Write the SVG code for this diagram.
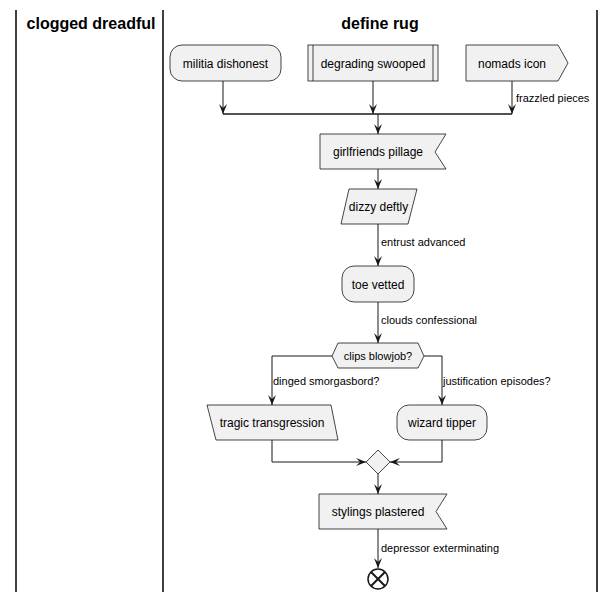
<svg xmlns="http://www.w3.org/2000/svg" width="614" height="602" viewBox="0 0 614 602">
<defs>
<style>
.lane{stroke:#000;stroke-width:1.5;fill:none}
.title{font-family:"Liberation Sans",Arial,sans-serif;font-size:16px;font-weight:bold;fill:#000;text-anchor:middle}
.node{fill:#F1F1F1;stroke:#181818;stroke-width:0.8}
.nt{font-family:"Liberation Sans",Arial,sans-serif;font-size:12px;fill:#000;text-anchor:middle}
.lbl{font-family:"Liberation Sans",Arial,sans-serif;font-size:11px;fill:#000}
.edge{stroke:#181818;stroke-width:1;fill:none}
</style>
<marker id="ah" viewBox="0 0 10 10" refX="10" refY="5" markerWidth="10" markerHeight="10" markerUnits="userSpaceOnUse" orient="auto">
<polygon points="0,1 10,5 0,9 4,5" fill="#181818"/>
</marker>
</defs>
<rect width="614" height="602" fill="#fff"/>
<g id="lanes">
<line class="lane" x1="16" y1="10" x2="16" y2="592"/>
<line class="lane" x1="163" y1="10" x2="163" y2="592"/>
<line class="lane" x1="597" y1="10" x2="597" y2="592"/>
<text class="title" x="91" y="29">clogged dreadful</text>
<text class="title" x="380" y="29">define rug</text>
</g>
<g id="connectors">
<line class="edge" x1="223" y1="81" x2="223" y2="114" marker-end="url(#ah)"/>
<line class="edge" x1="373" y1="81" x2="373" y2="114" marker-end="url(#ah)"/>
<line class="edge" x1="512" y1="81" x2="512" y2="114" marker-end="url(#ah)"/>
<text class="lbl" x="516" y="102">frazzled pieces</text>
<line x1="223" y1="114" x2="512" y2="114" stroke="#181818" stroke-width="1.5"/>
<line class="edge" x1="378" y1="114" x2="378" y2="134" marker-end="url(#ah)"/>
<line class="edge" x1="378" y1="169" x2="378" y2="189" marker-end="url(#ah)"/>
<line class="edge" x1="378" y1="224" x2="378" y2="266" marker-end="url(#ah)"/>
<text class="lbl" x="381" y="246">entrust advanced</text>
<line class="edge" x1="378" y1="302" x2="378" y2="343" marker-end="url(#ah)"/>
<text class="lbl" x="381" y="324">clouds confessional</text>
<polyline class="edge" points="332,356 272,356 272,405" marker-end="url(#ah)"/>
<text class="lbl" x="273" y="385">dinged smorgasbord?</text>
<polyline class="edge" points="424,356 442,356 442,405" marker-end="url(#ah)"/>
<text class="lbl" x="443" y="385">justification episodes?</text>
<polyline class="edge" points="272,440 272,462 366,462" marker-end="url(#ah)"/>
<polyline class="edge" points="442,440 442,462 390,462" marker-end="url(#ah)"/>
<line class="edge" x1="378" y1="474" x2="378" y2="494" marker-end="url(#ah)"/>
<line class="edge" x1="378" y1="529" x2="378" y2="568" marker-end="url(#ah)"/>
<text class="lbl" x="381" y="552">depressor exterminating</text>
</g>
<g id="militia-dishonest">
<rect class="node" x="170" y="45" width="111" height="36" rx="12"/>
<text class="nt" x="225.5" y="67.5">militia dishonest</text>
</g>
<g id="degrading-swooped">
<rect class="node" x="308" y="45" width="130" height="36"/>
<line x1="313" y1="45" x2="313" y2="81" stroke="#181818" stroke-width="0.8"/>
<line x1="433" y1="45" x2="433" y2="81" stroke="#181818" stroke-width="0.8"/>
<text class="nt" x="373" y="67.5">degrading swooped</text>
</g>
<g id="nomads-icon">
<polygon class="node" points="466,45 558,45 568,63 558,81 466,81"/>
<text class="nt" x="512" y="67.5">nomads icon</text>
</g>
<g id="girlfriends-pillage">
<polygon class="node" points="320,134 446,134 435,152 446,169 320,169"/>
<text class="nt" x="378" y="156">girlfriends pillage</text>
</g>
<g id="dizzy-deftly">
<polygon class="node" points="349,189 417,189 408,224 341,224"/>
<text class="nt" x="378.5" y="211">dizzy deftly</text>
</g>
<g id="toe-vetted">
<rect class="node" x="342" y="266" width="72" height="36" rx="12"/>
<text class="nt" x="378" y="288.5">toe vetted</text>
</g>
<g id="clips-blowjob">
<polygon class="node" points="332,356 338,343 418,343 424,356 418,368 338,368"/>
<text class="lbl" x="378" y="360" text-anchor="middle">clips blowjob?</text>
</g>
<g id="tragic-transgression">
<polygon class="node" points="207,405 331,405 338,440 216,440"/>
<text class="nt" x="272" y="427">tragic transgression</text>
</g>
<g id="wizard-tipper">
<rect class="node" x="397" y="405" width="90" height="35" rx="12"/>
<text class="nt" x="442" y="427">wizard tipper</text>
</g>
<g id="merge">
<polygon class="node" points="378,450 390,462 378,474 366,462"/>
</g>
<g id="stylings-plastered">
<polygon class="node" points="319,494 447,494 436,511.5 447,529 319,529"/>
<text class="nt" x="378" y="516">stylings plastered</text>
</g>
<g id="end">
<circle cx="378" cy="579" r="10" fill="#fff" stroke="#181818" stroke-width="1.5"/>
<line x1="371" y1="572" x2="385" y2="586" stroke="#181818" stroke-width="2"/>
<line x1="385" y1="572" x2="371" y2="586" stroke="#181818" stroke-width="2"/>
</g>
</svg>
